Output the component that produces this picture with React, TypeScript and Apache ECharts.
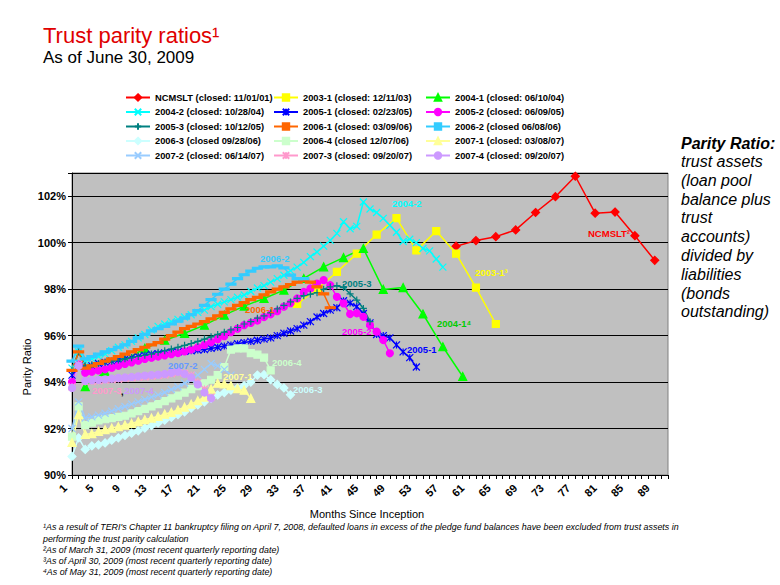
import React, { useEffect, useRef } from 'react';
import * as echarts from 'echarts';

const MONTHS: string[] = [];
for (let i = 1; i <= 91; i++) MONTHS.push(String(i));

const ncmsltMonths = [59, 62, 65, 68, 71, 74, 77, 80, 83, 86, 89];
const ncmsltValues = [99.85, 100.09, 100.26, 100.55, 101.3, 101.98, 102.86, 101.27, 101.32, 100.3, 99.24];

const s2003_1Months = [35, 38, 41, 44, 47, 50, 53, 56, 59, 62, 65];
const s2003_1Values = [97.36, 98.0, 98.74, 99.53, 100.35, 101.06, 99.67, 100.5, 99.53, 98.07, 96.5];

const s2004_1Months = [3, 6, 9, 12, 15, 18, 21, 24, 27, 30, 33, 36, 39, 42, 45, 48, 51, 54, 57, 60];
const s2004_1Values = [93.8, 94.45, 94.95, 95.45, 95.8, 96.1, 96.45, 96.88, 97.27, 97.6, 97.96, 98.46, 98.96, 99.36, 99.75, 97.99, 98.07, 96.93, 95.52, 94.24];

const s2004_2Values = [94.6, 95.3, 94.9, 95.0, 95.1, 95.2, 95.35, 95.5, 95.6, 95.75, 95.9, 96.05, 96.25, 96.4, 96.5, 96.6, 96.7, 96.8, 96.9, 97.0,
  97.1, 97.25, 97.35, 97.45, 97.55, 97.65, 97.75, 97.9, 98.05, 98.15, 98.3, 98.45, 98.6, 98.8, 98.95, 99.15, 99.4, 99.6, 99.85, 100.1,
  100.4, 100.9, 100.6, 100.7, 101.75, 101.45, 101.3, 101.05, 100.75, 100.45, 100.05, 100.15, 100.0, 99.75, 99.65, 99.3, 98.95];

const s2005_1Values = [94.3, 94.7, 94.6, 94.7, 94.8, 94.85, 94.9, 94.95, 95.0, 95.05, 95.1, 95.15, 95.2, 95.22, 95.25, 95.28, 95.3, 95.32, 95.35, 95.38,
  95.4, 95.45, 95.5, 95.55, 95.6, 95.65, 95.7, 95.75, 95.8, 95.85, 95.9, 96.0, 96.1, 96.2, 96.3, 96.45, 96.6, 96.8, 96.95, 97.1,
  97.2, 97.5, 97.4, 97.25, 96.95, 96.55, 96.05, 96.0, 95.9, 95.6, 95.3, 95.05, 94.65];

const s2005_2Values = [94.0, 94.75, 94.4, 94.45, 94.5, 94.55, 94.62, 94.7, 94.78, 94.85, 94.92, 95.0, 95.05, 95.1, 95.15, 95.2, 95.25, 95.32, 95.4, 95.5,
  95.6, 95.72, 95.85, 95.98, 96.15, 96.3, 96.45, 96.55, 96.65, 96.8, 96.92, 97.05, 97.25, 97.4, 97.6, 97.88, 98.03, 98.24, 98.39, 98.17,
  97.67, 97.39, 96.93, 96.96, 96.81, 96.45, 96.17, 95.81, 95.24];

const s2005_3Values = [94.5, 95.3, 94.7, 94.75, 94.8, 94.85, 94.9, 94.95, 95.0, 95.05, 95.1, 95.15, 95.2, 95.28, 95.35, 95.42, 95.5, 95.58, 95.66, 95.75,
  95.85, 95.95, 96.05, 96.15, 96.25, 96.35, 96.5, 96.6, 96.75, 96.85, 96.98, 97.15, 97.3, 97.45, 97.6, 97.72, 97.78, 97.85, 98.0, 98.1,
  98.15, 98.07, 97.8, 97.53, 97.17, 96.6];

const s2006_1Values = [94.5, 95.3, 94.6, 94.7, 94.8, 94.9, 95.0, 95.1, 95.2, 95.3, 95.4, 95.5, 95.6, 95.7, 95.85, 96.0, 96.15, 96.3, 96.4, 96.5,
  96.6, 96.72, 96.85, 97.0, 97.15, 97.3, 97.42, 97.55, 97.65, 97.75, 97.88, 98.0, 98.1, 98.2, 98.3, 98.38, 98.3, 98.1, 97.8, 97.2];

const s2006_2Values = [94.9, 95.55, 95.0, 95.1, 95.2, 95.3, 95.4, 95.5, 95.6, 95.75, 95.9, 96.05, 96.2, 96.3, 96.4, 96.5, 96.62, 96.75, 96.9, 97.08,
  97.3, 97.55, 97.78, 98.0, 98.22, 98.45, 98.62, 98.78, 98.9, 98.96, 98.96, 99.0, 98.92, 98.6, 98.45, 98.45];

const s2006_3Values = [90.8, 91.6, 91.1, 91.25, 91.3, 91.38, 91.5, 91.6, 91.7, 91.8, 91.9, 92.02, 92.12, 92.24, 92.36, 92.48, 92.6, 92.72, 92.88, 93.02,
  93.15, 93.3, 93.45, 93.55, 93.65, 93.74, 93.85, 94.0, 94.3, 94.32, 94.1, 93.9, 93.75, 93.45];

const s2006_4Values = [91.65, 92.95, 92.15, 92.25, 92.35, 92.4, 92.45, 92.5, 92.55, 92.65, 92.75, 92.85, 92.95, 93.05, 93.18, 93.3, 93.42, 93.55, 93.7, 93.82,
  93.95, 94.1, 94.3, 94.65, 95.4, 95.45, 95.45, 95.25, 95.18, 95.05, 94.5];

const s2007_1Values = [91.4, 92.6, 91.75, 91.78, 91.88, 91.95, 92.02, 92.08, 92.15, 92.22, 92.3, 92.38, 92.45, 92.52, 92.62, 92.7, 92.8, 92.92, 93.05, 93.2,
  93.35, 93.7, 93.95, 93.92, 93.85, 93.72, 93.65, 93.3];

const s2007_2Values = [92.0, 93.15, 92.45, 92.5, 92.58, 92.66, 92.75, 92.85, 92.95, 93.05, 93.15, 93.25, 93.35, 93.45, 93.55, 93.68, 93.8, 93.95, 94.1, 94.3,
  94.55, 94.8, 94.7, 94.55, 94.3];

const s2007_3Values = [93.8, 94.75, 94.0, 94.02, 94.05, 94.08, 94.1, 94.12, 94.15, 94.18, 94.2, 94.22, 94.25, 94.28, 94.3, 94.35, 94.4, 94.38, 94.3, 94.0,
  93.7, 93.35];

const s2007_4Values = [93.75, 94.7, 94.05, 94.08, 94.1, 94.12, 94.15, 94.18, 94.2, 94.22, 94.25, 94.28, 94.3, 94.32, 94.35, 94.4, 94.45, 94.35, 94.2, 93.9,
  93.55, 93.3];

const Y_TICKS = [90, 92, 94, 96, 98, 100, 102];

function sparse(months: number[], values: number[]) {
  const out: (number | null)[] = MONTHS.map(() => null);
  months.forEach((m, i) => { out[m - 1] = values[i]; });
  return out;
}
function monthly(values: number[]) {
  return MONTHS.map((_, i) => (i < values.length ? values[i] : null));
}

const X_SYM = 'path://M0,0L10,10M10,0L0,10';
const STAR_SYM = 'path://M0,0L10,10M10,0L0,10M5,0L5,10';
const PLUS_SYM = 'path://M5,0L5,10M0,5L10,5';

const FONT = "'Liberation Sans', Arial, Helvetica, sans-serif";

export default function App() {
  const ref = useRef<HTMLDivElement>(null);
  useEffect(() => {
    if (!ref.current) return;
    const chart = echarts.init(ref.current, undefined, { renderer: 'svg' });

    const defs: any[] = [
      { name: 'NCMSLT (closed: 11/01/01)', data: sparse(ncmsltMonths, ncmsltValues), color: '#FF0000', symbol: 'diamond', size: 8, connect: true },
      { name: '2003-1 (closed: 12/11/03)', data: sparse(s2003_1Months, s2003_1Values), color: '#FFFF00', symbol: 'rect', size: 7, connect: true },
      { name: '2004-1 (closed: 06/10/04)', data: sparse(s2004_1Months, s2004_1Values), color: '#00FF00', symbol: 'triangle', size: 8, connect: true },
      { name: '2004-2 (closed: 10/28/04)', data: monthly(s2004_2Values), color: '#00FFFF', symbol: X_SYM, size: 7 },
      { name: '2005-1 (closed: 02/23/05)', data: monthly(s2005_1Values), color: '#0000FF', symbol: STAR_SYM, size: 7 },
      { name: '2005-2 (closed: 06/09/05)', data: monthly(s2005_2Values), color: '#FF00FF', symbol: 'circle', size: 7 },
      { name: '2005-3 (closed: 10/12/05)', data: monthly(s2005_3Values), color: '#008080', symbol: PLUS_SYM, size: 7 },
      { name: '2006-1 (closed: 03/09/06)', data: monthly(s2006_1Values), color: '#FF6600', symbol: 'rect', size: [7, 2] },
      { name: '2006-2 (closed 06/08/06)', data: monthly(s2006_2Values), color: '#33CCFF', symbol: 'rect', size: [7, 2] },
      { name: '2006-3 (closed 09/28/06)', data: monthly(s2006_3Values), color: '#CCFFFF', symbol: 'diamond', size: 8 },
      { name: '2006-4 (closed 12/07/06)', data: monthly(s2006_4Values), color: '#CCFFCC', symbol: 'rect', size: 7 },
      { name: '2007-1 (closed: 03/08/07)', data: monthly(s2007_1Values), color: '#FFFF99', symbol: 'triangle', size: 8 },
      { name: '2007-2 (closed: 06/14/07)', data: monthly(s2007_2Values), color: '#99CCFF', symbol: X_SYM, size: 7 },
      { name: '2007-3 (closed: 09/20/07)', data: monthly(s2007_3Values), color: '#FF99CC', symbol: STAR_SYM, size: 7 },
      { name: '2007-4 (closed: 09/20/07)', data: monthly(s2007_4Values), color: '#CC99FF', symbol: 'circle', size: 7 },
    ];

    const series = defs.map((d) => ({
      type: 'line',
      name: d.name,
      data: d.data,
      connectNulls: !!d.connect,
      symbol: d.symbol,
      symbolSize: d.size,
      showSymbol: true,
      showAllSymbol: true,
      lineStyle: { color: d.color, width: 1.5 },
      itemStyle: { color: d.color, borderColor: d.color, borderWidth: 1.2 },
      emphasis: { disabled: true },
    }));

    const names = defs.map((d) => d.name);
    const col = (i: number) => [names[i], names[i + 3], names[i + 6], names[i + 9], names[i + 12]];
    const legendBase = {
      orient: 'vertical',
      top: 88,
      itemWidth: 24,
      itemHeight: 8,
      itemGap: 5.5,
      selectedMode: false,
      textStyle: { fontSize: 9.3, fontWeight: 'bold', fontFamily: FONT, color: '#000' },
    };

    const t = (text: string, x: number, y: number, font: string, fill: string, extra: any = {}) => ({
      type: 'text',
      x,
      y,
      z: 100,
      silent: true,
      ...extra,
      style: {
        text,
        font,
        fill,
        align: extra.align || 'left',
        textAlign: extra.align || 'left',
        verticalAlign: 'middle',
        textVerticalAlign: 'middle',
      },
    });

    const lab = (text: string, x: number, y: number, fill: string) => t(text, x, y, `bold 9.5px ${FONT}`, fill);
    const foot = `italic 8.9px ${FONT}`;

    const graphic: any[] = [
      t('Trust parity ratios¹', 43, 35.5, `22px ${FONT}`, '#E00000'),
      t('As of June 30, 2009', 43, 57.5, `17px ${FONT}`, '#000000'),
      t('Parity Ratio:', 681, 143, `italic bold 16px ${FONT}`, '#000000'),
      {
        type: 'text', x: 681, y: 152, z: 100, silent: true,
        style: {
          text: 'trust assets\n(loan pool\nbalance plus\ntrust\naccounts)\ndivided by\nliabilities\n(bonds\noutstanding)',
          font: `italic 16px ${FONT}`, fill: '#000', lineHeight: 18.8,
          align: 'left', textAlign: 'left', verticalAlign: 'top', textVerticalAlign: 'top',
        },
      },
      t('Parity Ratio', 27, 367, `11px ${FONT}`, '#000', { rotation: Math.PI / 2, align: 'center' }),
      t('Months Since Inception', 367, 514, `11px ${FONT}`, '#000', { align: 'center' }),
      t("¹As a result of TERI's Chapter 11 bankruptcy filing on April 7, 2008, defaulted loans in excess of the pledge fund balances have been excluded from trust assets in", 43, 527, foot, '#000'),
      t('performing the trust parity calculation', 43, 539, foot, '#000'),
      t('²As of March 31, 2009 (most recent quarterly reporting date)', 43, 550, foot, '#000'),
      t('³As of April 30, 2009 (most recent quarterly reporting date)', 43, 561, foot, '#000'),
      t('⁴As of May 31, 2009 (most recent quarterly reporting date)', 43, 572, foot, '#000'),
      lab('2006-2', 260, 258, '#33CCFF'),
      lab('2004-2', 392, 203, '#00FFFF'),
      lab('NCMSLT²', 588, 233, '#FF0000'),
      lab('2003-1³', 475, 272, '#FFFF00'),
      lab('2005-3', 342, 283, '#008080'),
      lab('2006-1', 245, 309, '#FF6600'),
      lab('2005-2', 342, 331, '#FF00FF'),
      lab('2004-1⁴', 437, 323, '#00CC00'),
      lab('2005-1', 407, 349, '#0000FF'),
      lab('2006-4', 272, 362, '#CCFFCC'),
      lab('2007-2', 168, 365, '#6699FF'),
      lab('2007-1', 223, 376, '#FFFF99'),
      lab('2006-3', 293, 389, '#CCFFFF'),
      lab('2007-3', 92, 390, '#FF99CC'),
      lab(',', 121, 391, '#000000'),
      lab('2007-4', 124, 390, '#CC99FF'),
    ];

    chart.setOption({
      animation: false,
      backgroundColor: '#FFFFFF',
      grid: { left: 72, right: 112, top: 173, bottom: 110, show: true, backgroundColor: '#C0C0C0', borderColor: '#808080', borderWidth: 1 },
      legend: [
        { ...legendBase, left: 120, data: col(0) },
        { ...legendBase, left: 268, data: col(1) },
        { ...legendBase, left: 420, data: col(2) },
      ],
      xAxis: {
        type: 'category',
        data: MONTHS,
        boundaryGap: false,
        axisLine: { lineStyle: { color: '#000', width: 1 } },
        axisTick: { show: true, interval: 0, length: 4, lineStyle: { color: '#000' } },
        axisLabel: { interval: 3, rotate: 45, margin: 4, padding: [0, 10, 0, 0], fontSize: 11, fontWeight: 'bold', fontFamily: FONT, color: '#000' },
        splitLine: { show: false },
      },
      yAxis: {
        type: 'value',
        min: 90,
        max: 103,
        interval: 2,
        axisLine: { show: true, lineStyle: { color: '#000', width: 1 } },
        axisTick: { show: true, length: 4, lineStyle: { color: '#000' } },
        axisLabel: {
          margin: 6, fontSize: 11, fontWeight: 'bold', fontFamily: FONT, color: '#000',
          formatter: (v: number) => (Y_TICKS.indexOf(v) >= 0 ? v + '%' : ''),
        },
        splitLine: { show: true, lineStyle: { color: '#000', width: 1 } },
      },
      series,
      graphic,
    });
    return () => chart.dispose();
  }, []);
  return <div ref={ref} style={{ position: 'fixed', left: 0, top: 0, width: 780, height: 585 }} />;
}
